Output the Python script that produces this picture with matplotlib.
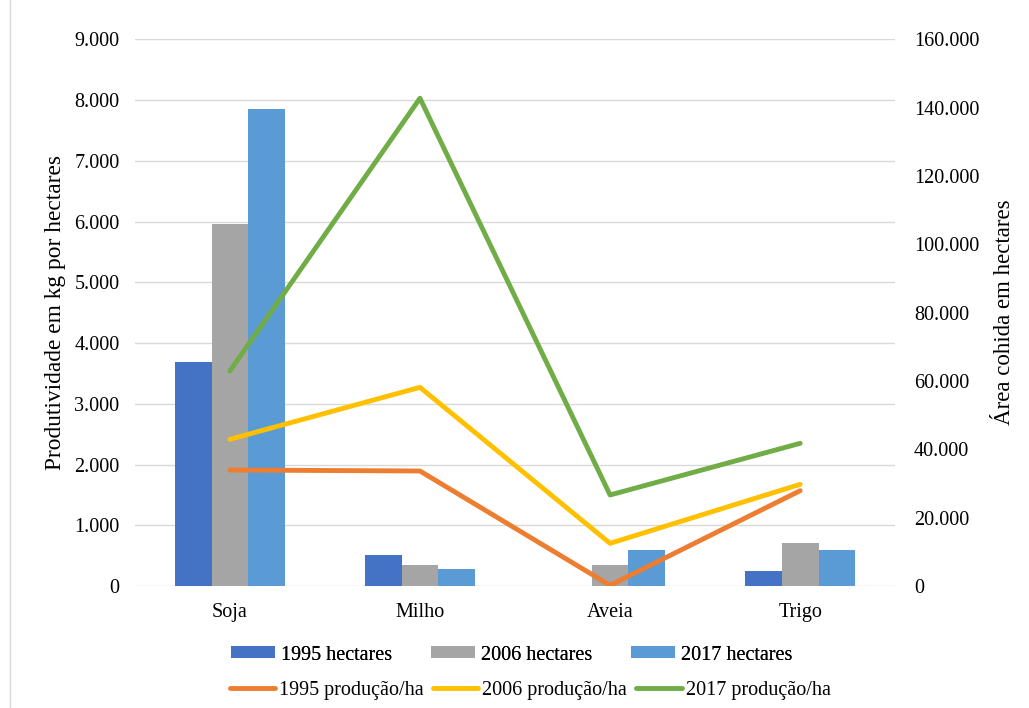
import matplotlib
matplotlib.use('Agg')
import matplotlib.pyplot as plt
from matplotlib.ticker import FuncFormatter, MultipleLocator
from matplotlib.lines import Line2D
import numpy as np

plt.rcParams['font.family'] = ['Liberation Serif', 'DejaVu Serif']
plt.rcParams['font.size'] = 14.5

culturas = ['Soja', 'Milho', 'Aveia', 'Trigo']

# area (bars, left axis)
hect_1995 = [3690, 505, 0, 247]
hect_2006 = [5960, 340, 340, 703]
hect_2017 = [7850, 275, 593, 593]

# producao/ha (lines, right axis)
prod_1995 = [33950, 33660, 200, 27900]
prod_2006 = [42930, 58150, 12490, 29760]
prod_2017 = [62930, 142750, 26640, 41760]


def milhar(v, pos):
    return '{:,.0f}'.format(v).replace(',', '.')


fig = plt.figure(figsize=(10.29, 7.08), dpi=100)
ax = fig.add_axes([0.131, 0.1723, 0.739, 0.7722])
ax2 = ax.twinx()

x = np.arange(len(culturas))
w = 0.193
b1 = ax.bar(x - w, hect_1995, w, color='#4472C4', label='1995 hectares', zorder=2)
b2 = ax.bar(x, hect_2006, w, color='#A5A5A5', label='2006 hectares', zorder=2)
b3 = ax.bar(x + w, hect_2017, w, color='#5B9BD5', label='2017 hectares', zorder=2)

lkw = dict(lw=3.5, solid_capstyle='round', solid_joinstyle='round')
l1, = ax2.plot(x, prod_1995, color='#ED7D31', label='1995 produção/ha', **lkw)
l2, = ax2.plot(x, prod_2006, color='#FFC000', label='2006 produção/ha', **lkw)
l3, = ax2.plot(x, prod_2017, color='#70AD47', label='2017 produção/ha', **lkw)

ax.set_xlim(-0.5, 3.5)
ax.set_ylim(0, 9000)
ax2.set_ylim(0, 160000)
ax.yaxis.set_major_locator(MultipleLocator(1000))
ax2.yaxis.set_major_locator(MultipleLocator(20000))
ax.yaxis.set_major_formatter(FuncFormatter(milhar))
ax2.yaxis.set_major_formatter(FuncFormatter(milhar))

ax.set_xticks(x)
ax.set_xticklabels(culturas)
ax.grid(axis='y', color='#d9d9d9', lw=1, zorder=0)
ax.set_axisbelow(True)
for a in (ax, ax2):
    for s in a.spines.values():
        s.set_visible(False)
ax.tick_params(axis='both', length=0, colors='#000000')
ax.tick_params(axis='y', pad=11)
ax.tick_params(axis='x', pad=12)
ax2.tick_params(axis='y', length=0, pad=13.5)

ax.set_ylabel('Produtividade em kg por hectares', fontsize=16.8)
ax2.set_ylabel('Área cohida em hectares', rotation=90, fontsize=16.5)
ax.yaxis.set_label_coords(-0.09, 0.5)
ax2.yaxis.set_label_coords(1.13, 0.5)

leg1 = fig.legend(handles=[b1, b2, b3], loc='center left', ncol=3,
                  bbox_to_anchor=(221 / 1029, 1 - 655 / 708), frameon=False,
                  borderpad=0, handlelength=2.2, handleheight=0.55,
                  handletextpad=0.3, columnspacing=1.9)
leg2 = fig.legend(handles=[l1, l2, l3], loc='center left', ncol=3,
                  bbox_to_anchor=(220 / 1029, 1 - 690 / 708), frameon=False,
                  borderpad=0, handlelength=2.25, handletextpad=0.2,
                  columnspacing=0.45)
fig.add_artist(leg1)

# chart area border, left edge
fig.add_artist(Line2D([10 / 1029, 10 / 1029], [0, 1], color='#d9d9d9', lw=1,
                      transform=fig.transFigure))

fig.savefig('out.png', dpi=100)
